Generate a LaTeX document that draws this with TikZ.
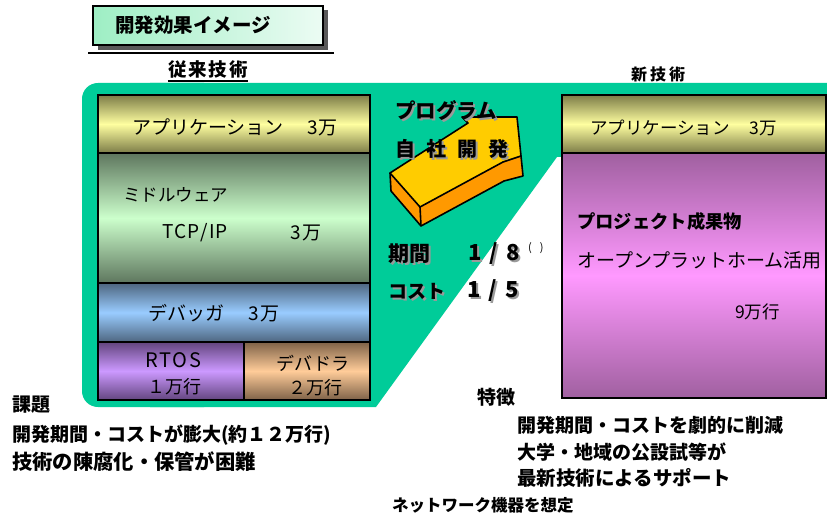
\documentclass[tikz,border=0pt]{standalone}
\usepackage{fontspec}
\setmainfont{Noto Sans CJK JP}
\newcommand\fsz[1]{\fontsize{#1bp}{#1bp}\selectfont}
\definecolor{grn}{HTML}{00CC99}
\definecolor{arY}{HTML}{FFCC00}
\definecolor{arO}{HTML}{FF9900}
\definecolor{appE}{HTML}{7C7C48}
\definecolor{appM}{HTML}{FFFFA0}
\definecolor{midE}{HTML}{5E765E}
\definecolor{midM}{HTML}{CCFFCC}
\definecolor{dbgE}{HTML}{4E6680}
\definecolor{dbgM}{HTML}{99CCFF}
\definecolor{rtE}{HTML}{63457F}
\definecolor{rtM}{HTML}{CC99FF}
\definecolor{drE}{HTML}{7E6248}
\definecolor{drM}{HTML}{FFCC99}
\definecolor{pkE}{HTML}{A060A0}
\definecolor{pkM}{HTML}{FF99FF}
\definecolor{mint}{HTML}{9EEEC4}
\definecolor{shd}{HTML}{9A9A9A}
\newcommand\shtxt[1]{\makebox[0pt][l]{\hspace{2bp}\raisebox{-2bp}{\textcolor{shd}{#1}}}#1}
\begin{document}
\begin{tikzpicture}[x=1bp,y=-1bp,every node/.style={inner sep=0pt}]
\tikzset{
  layer/.style={draw=black,line width=2.6bp},
  lab/.style={anchor=west},
}
\useasboundingbox (0,0) rectangle (827,516);
\fill[white] (0,0) rectangle (827,516);

% title
\fill[black!65] (98,10) rectangle (328,50);
\node[draw=black,line width=1.6bp,left color=mint,right color=mint!20!white,
  minimum width=230bp,minimum height=39bp] (title) at (208,25.5) {};
\node[lab,font=\fsz{19.5}\bfseries] (titletxt) at (115,25) {開発効果イメージ};
\coordinate (hl1) at (88,53);
\coordinate (hl2) at (334,53);
\draw[line width=1.8bp] (hl1) -- (hl2);

% headings
\node[font=\fsz{18.5}\bfseries] (oldh) at (208,70) {従\hspace{2bp}来\hspace{2bp}技\hspace{2bp}術};
\draw[line width=1.4bp] ([yshift=-2bp]oldh.south west) -- ([yshift=-2bp]oldh.south east);
\node[font=\fsz{16}\bfseries] (newh) at (658,74) {新\hspace{3bp}技\hspace{3bp}術};

% green region
\fill[grn,rounded corners=16] (220,407) -- (82,407) -- (82,83) -- (220,83) -- cycle;
\fill[grn] (150,83) -- (827,83) -- (827,157) -- (557,157) -- (376,407) -- (150,407) -- cycle;

% old technology stack
\node[layer,top color=appE,bottom color=appE,middle color=appM,
  minimum width=272bp,minimum height=58bp] (app1) at (234,124) {};
\node[layer,top color=midE,bottom color=midE,middle color=midM,
  minimum width=272bp,minimum height=130bp] (mid) at (234,218) {};
\node[layer,top color=dbgE,bottom color=dbgE,middle color=dbgM,
  minimum width=272bp,minimum height=59bp] (dbg) at (234,312.5) {};
\node[layer,top color=rtE,bottom color=rtE,middle color=rtM,
  minimum width=146bp,minimum height=58bp] (rtos) at (171,371) {};
\node[layer,top color=drE,bottom color=drE,middle color=drM,
  minimum width=126bp,minimum height=58bp] (drv) at (307,371) {};

\node[lab,font=\fsz{19}] (app1t) at (132,127) {アプリケーション\hspace{24bp}3万};
\node[lab,font=\fsz{17.5}] (midt) at (123,195) {ミドルウェア};
\node[lab,font=\fsz{19}] (tcp) at (162,233) {T\hspace{1bp}C\hspace{1bp}P\hspace{1bp}/\hspace{1bp}I\hspace{1bp}P};
\node[lab,font=\fsz{19}] (midn) at (290,233) {3\hspace{2bp}万};
\node[lab,font=\fsz{19}] (dbgt) at (148,313) {デバッガ\hspace{24bp}3\hspace{2bp}万};
\node[font=\fsz{20}] (rtost) at (173,360) {R\hspace{1.5bp}T\hspace{1.5bp}O\hspace{1.5bp}S};
\node[font=\fsz{18}] (rtosn) at (174,387) {１万行};
\node[font=\fsz{18}] (drvt) at (313,363) {デバドラ};
\node[font=\fsz{18}] (drvn) at (315,388) {２万行};

% new technology
\node[layer,top color=appE,bottom color=appE,middle color=appM,
  minimum width=264bp,minimum height=58bp] (app2) at (694,124) {};
\node[layer,top color=pkE,bottom color=pkE,middle color=pkM,
  minimum width=264bp,minimum height=245bp] (proj) at (694,275.5) {};
\node[lab,font=\fsz{17.5}] (app2t) at (590,128) {アプリケーション\hspace{20bp}3万};
\node[lab,font=\fsz{18.3}\bfseries] (projt) at (577,222) {プロジェクト成果物};
\node[lab,font=\fsz{19}] (opent) at (577,260) {オープンプラットホーム活用};
\node[lab,font=\fsz{17.5}] (ninet) at (735,312) {9万行};

% 3D arrow
\coordinate (A1) at (390,173);
\coordinate (A2) at (468,123);
\coordinate (A3) at (462,117);
\coordinate (A4) at (517,117);
\coordinate (A5) at (521,156);
\coordinate (A6) at (503,162);
\coordinate (A7) at (420,207);
\coordinate (B1) at (391,191);
\coordinate (B7) at (421,226);
\coordinate (B6) at (504,181);
\coordinate (B5) at (523,176);
\coordinate (C2) at (473,127);
\coordinate (C3) at (466,121);
\fill[arO] (A1) -- (B1) -- (B7) -- (B6) -- (B5) -- (A5) -- (A6) -- (A7) -- cycle;
\filldraw[arO,draw=black,line width=1.3bp] (A3) -- (C3) -- (C2) -- (A2) -- cycle;
\filldraw[fill=arY,draw=black,line width=1.6bp,line join=round]
  (A1) -- (A2) -- (A3) -- (A4) -- (A5) -- (A6) -- (A7) -- cycle;
\draw[line width=1.6bp,line join=round] (A1) -- (B1) -- (B7) -- (B6) -- (B5) -- (A5);
\draw[line width=1.6bp] (A7) -- (B7);

% arrow labels with shadow
\node[lab,font=\fsz{20.5}\bfseries] (pg) at (395,112) {\shtxt{プログラム}};
\node[lab,font=\fsz{20}\bfseries] (js) at (395,150) {\shtxt{自\hspace{11bp}社\hspace{11bp}開\hspace{11bp}発}};

\node[lab,font=\fsz{21}\bfseries] (kk) at (388,255) {\shtxt{期間}};
\node[lab,font=\fsz{22}\bfseries] (k8) at (468,255) {\shtxt{1\hspace{8bp}/\hspace{8bp}8}};
\node[lab,font=\fsz{11}] (kpar) at (528,248) {(\hspace{8bp})};
\node[lab,font=\fsz{19}\bfseries] (ct) at (388,292) {\shtxt{コスト}};
\node[lab,font=\fsz{22}\bfseries] (c5) at (467,292) {\shtxt{1\hspace{8bp}/\hspace{8bp}5}};

% bottom left texts
\node[lab,font=\fsz{19}\bfseries] (kadai) at (12,405) {課題};
\node[lab,font=\fsz{19}\bfseries] (kd1) at (12,435) {開発期間・コストが膨大(約１２万行)};
\node[lab,font=\fsz{20.3}\bfseries] (kd2) at (12,462) {技術の陳腐化・保管が困難};

% bottom right texts
\node[lab,font=\fsz{19}\bfseries] (tok) at (477,397) {特徴};
\node[lab,font=\fsz{19}\bfseries] (tk1) at (517,425) {開発期間・コストを劇的に削減};
\node[lab,font=\fsz{19}\bfseries] (tk2) at (517,452) {大学・地域の公設試等が};
\node[lab,font=\fsz{19.5}\bfseries] (tk3) at (517,478) {最新技術によるサポート};
\node[lab,font=\fsz{16.5}\bfseries] (net) at (392,505) {ネットワーク機器を想定};
\end{tikzpicture}
\end{document}
